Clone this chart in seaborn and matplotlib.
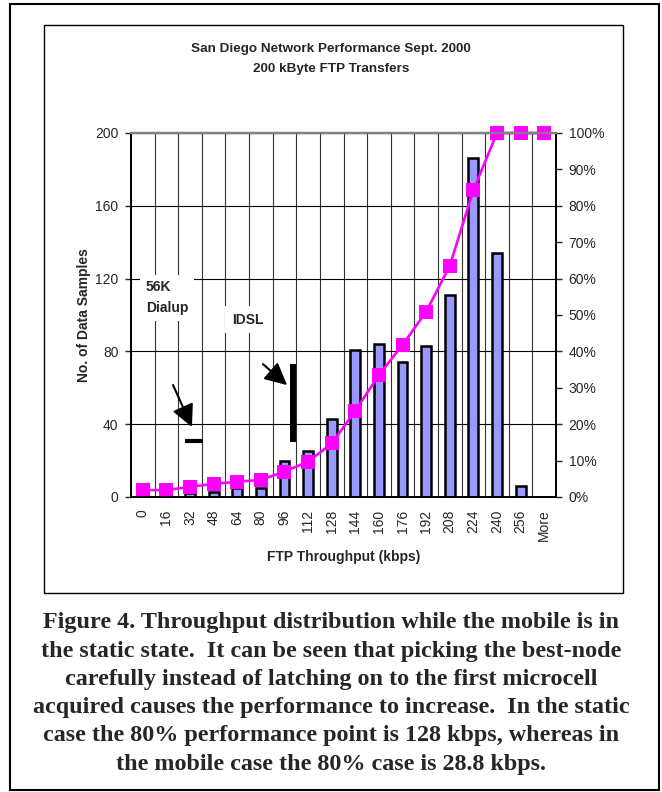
import numpy as np
import pandas as pd
import seaborn as sns
import matplotlib.pyplot as plt
from matplotlib.patches import Rectangle
from matplotlib.ticker import FuncFormatter, FixedLocator

# --- dati ---
categorie = ['0', '16', '32', '48', '64', '80', '96', '112', '128', '144',
             '160', '176', '192', '208', '224', '240', '256', 'More']
campioni = [0, 0, 2, 3, 5, 5, 20, 25, 43, 81, 84, 74, 83, 111, 186, 134, 6, 0]
cumulativa = [1.9, 1.9, 2.8, 3.6, 4.2, 4.7, 7.0, 9.7, 14.7, 23.7, 33.5,
              41.8, 50.9, 63.5, 84.3, 100.0, 100.0, 100.0]
tick_sx = [0, 40, 80, 120, 160, 200]
tick_dx = [0, 10, 20, 30, 40, 50, 60, 70, 80, 90, 100]

titolo = ["San Diego Network Performance Sept. 2000", "200 kByte FTP Transfers"]
didascalia = [
    "Figure 4. Throughput distribution while the mobile is in",
    "the static state.  It can be seen that picking the best-node",
    "carefully instead of latching on to the first microcell",
    "acquired causes the performance to increase.  In the static",
    "case the 80% performance point is 128 kbps, whereas in",
    "the mobile case the 80% case is 28.8 kbps.",
]

sns.set_style("white")
plt.rcParams['font.family'] = ['Liberation Sans', 'DejaVu Sans']

df = pd.DataFrame({'cat': categorie, 'n': campioni, 'cum': np.array(cumulativa) / 100})

W, H = 662, 792
fig = plt.figure(figsize=(W / 100, H / 100), dpi=100)
ax = fig.add_axes([131 / W, 1 - 497 / H, (556 - 131) / W, (497 - 133) / H])
ax2 = ax.twinx()

# barre
sns.barplot(data=df, x='cat', y='n', order=categorie, color='#9999FF',
            saturation=1, width=0.42, edgecolor='black', linewidth=1.8, ax=ax)

# curva cumulativa
sns.pointplot(data=df, x='cat', y='cum', order=categorie, color='#FF00FF',
              markers='s', linestyles='-', markersize=9, linewidth=1.9,
              errorbar=None, ax=ax2)
for ln in ax2.lines:
    ln.set_markeredgecolor('#FF00FF')
    ln.set_clip_on(False)

n = len(categorie)
ax.set_xlim(-0.5, n - 0.5)
ax.set_ylim(0, 200)
ax2.set_ylim(0, 1)

ax.xaxis.set_major_locator(FixedLocator(np.arange(n)))
ax.set_xticklabels(categorie, rotation=90, fontsize=10)
ax.xaxis.set_minor_locator(FixedLocator(np.arange(n + 1) - 0.5))
ax.tick_params(axis='x', which='major', length=0, pad=9)
ax.tick_params(axis='x', which='minor', length=4, width=1, direction='out', color='black')
ax.set_yticks(tick_sx)
ax.tick_params(axis='y', labelsize=10, length=4, width=1, direction='out', pad=5, left=True)

ax2.set_yticks(np.array(tick_dx) / 100)
ax2.yaxis.set_major_formatter(FuncFormatter(lambda v, p: f"{v * 100:.0f}%"))
ax2.tick_params(axis='y', labelsize=10, length=4, width=1, direction='out', pad=5, right=True)

ax.set_axisbelow(True)
ax.grid(axis='y', which='major', color='black', lw=0.8)
ax.grid(axis='x', which='minor', color='#333333', lw=0.8)
ax.grid(axis='x', which='major', visible=False)

for a in (ax, ax2):
    for s in ('left', 'right', 'bottom'):
        a.spines[s].set_color('black')
        a.spines[s].set_linewidth(1.2)
    a.spines['top'].set_color('#808080')
    a.spines['top'].set_linewidth(1.6)

ax.set_xlabel("FTP Throughput (kbps)", fontsize=10, fontweight='bold')
ax.xaxis.set_label_coords(0.5, -0.145)
ax.set_ylabel("No. of Data Samples", fontsize=10, fontweight='bold')
ax.yaxis.set_label_coords(-0.094, 0.5)
ax2.set_ylabel("")
ax2.set_xlabel("")

# annotazioni 56K / IDSL
ax.text(0.12, 119, "56K\nDialup", fontsize=10, fontweight='bold', ha='left', va='top',
        linespacing=1.6, zorder=6,
        bbox=dict(boxstyle='square,pad=0.4', fc='white', ec='none'))
ax.text(3.78, 97.5, "IDSL", fontsize=10, fontweight='bold', ha='left', va='center',
        zorder=6, bbox=dict(boxstyle='square,pad=0.5', fc='white', ec='none'))
freccia = dict(arrowstyle='-|>,head_length=0.9,head_width=0.45', color='black',
               lw=1.5, mutation_scale=15, shrinkA=0, shrinkB=0)
ax.annotate('', xy=(2.08, 38.5), xytext=(1.28, 61.5), arrowprops=freccia, zorder=6)
ax.annotate('', xy=(6.11, 61.5), xytext=(5.09, 73), arrowprops=freccia, zorder=6)
ax.plot([1.79, 2.55], [30.5, 30.5], color='black', lw=3, solid_capstyle='butt', zorder=6)
ax.plot([6.36, 6.36], [30.2, 73], color='black', lw=4.3, solid_capstyle='butt', zorder=6)

# titolo
for i, riga in enumerate(titolo):
    fig.text(0.5, 1 - (49 + i * 20) / H, riga, ha='center', va='center',
             fontsize=9.7, fontweight='bold')

# riquadri
fig.patches.append(Rectangle((44 / W, 1 - 593 / H), (623 - 44) / W, (593 - 25) / H,
                             transform=fig.transFigure, fill=False, ec='black', lw=1.0))
fig.patches.append(Rectangle((10 / W, 1 - 790 / H), (659 - 10) / W, (790 - 4) / H,
                             transform=fig.transFigure, fill=False, ec='black', lw=1.5))

# didascalia
for i, riga in enumerate(didascalia):
    fig.text(0.5, 1 - (628.3 + i * 28.3) / H, riga, ha='center', va='baseline',
             fontsize=17.4, fontweight='bold', family='Liberation Serif')

fig.savefig("out.png", dpi=100)
